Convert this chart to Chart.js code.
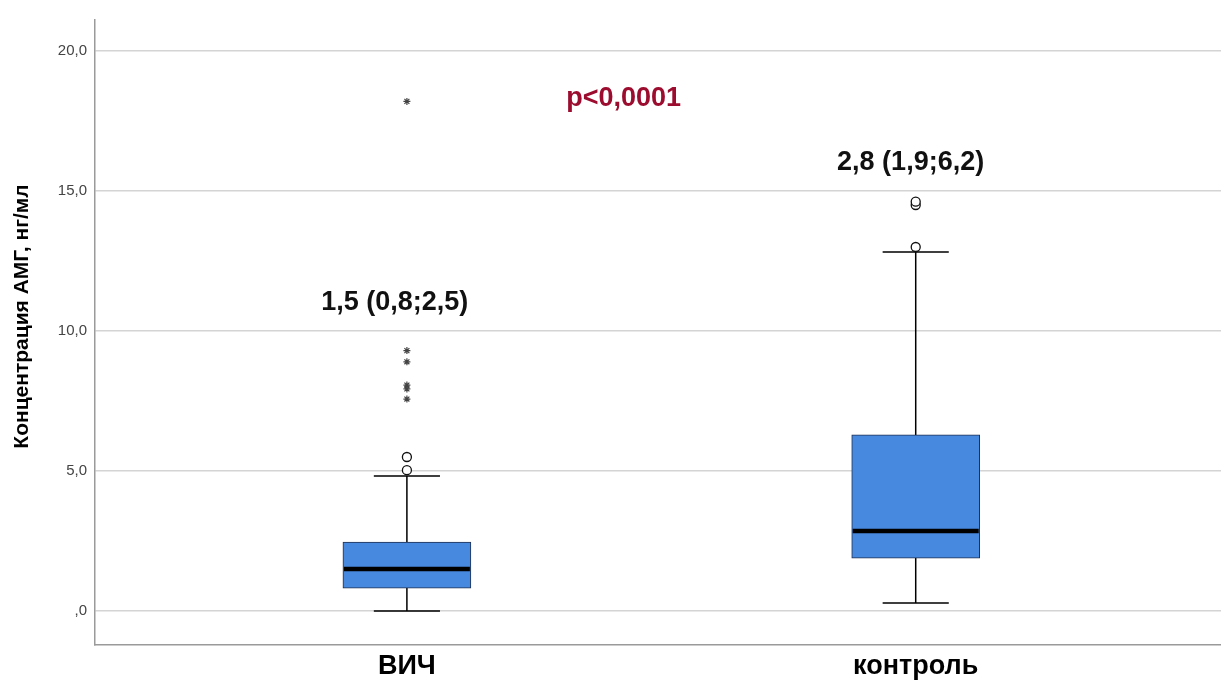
<!DOCTYPE html>
<html>
<head>
<meta charset="utf-8">
<script src="https://cdn.jsdelivr.net/npm/chart.js@4.4.0/dist/chart.umd.min.js"></script>
<style>
  html, body { margin: 0; padding: 0; background: #fff; overflow: hidden; }
  canvas { display: block; }
</style>
</head>
<body>
<canvas id="amhChart" width="1221" height="682"></canvas>
<script>
// AMH concentration, HIV vs control
const groups = ['ВИЧ', 'контроль'];
const groupX = [1, 2];
const q1 = [0.82, 1.89];
const medians = [1.5, 2.86];
const q3 = [2.46, 6.29];
const whiskerLow = [0.0, 0.29];
const whiskerHigh = [4.82, 12.82];
const circleOutliers = [[5.03, 5.5], [13.0, 14.5, 14.62]];
const starOutliers = [[7.57, 7.93, 8.07, 8.9, 9.3, 18.2], []];
const yTicks = [0, 5, 10, 15, 20];
const yTitle = 'Концентрация АМГ, нг/мл';
const summaryLabels = ['1,5 (0,8;2,5)', '2,8 (1,9;6,2)'];
const pValueLabel = 'p<0,0001';

const FONT = 'Arial, "Liberation Sans", sans-serif';

const toPoints = (lists) =>
  lists.flatMap((vals, i) => vals.map(v => ({ x: groupX[i], y: v })));

// whiskers, medians and text labels
const boxExtras = {
  id: 'boxExtras',
  beforeDatasetsDraw(chart) {
    const { ctx, scales: { x, y } } = chart;
    ctx.save();
    ctx.strokeStyle = '#000';
    ctx.lineWidth = 1.5;
    groupX.forEach((gx, i) => {
      const px = x.getPixelForValue(gx);
      const capHalf = x.getPixelForValue(gx + 0.065) - px;
      ctx.beginPath();
      ctx.moveTo(px, y.getPixelForValue(whiskerLow[i]));
      ctx.lineTo(px, y.getPixelForValue(whiskerHigh[i]));
      [whiskerLow[i], whiskerHigh[i]].forEach(v => {
        const py = y.getPixelForValue(v);
        ctx.moveTo(px - capHalf, py);
        ctx.lineTo(px + capHalf, py);
      });
      ctx.stroke();
    });
    ctx.restore();
  },
  afterDatasetsDraw(chart) {
    const { ctx, chartArea, scales: { x, y } } = chart;
    const bars = chart.getDatasetMeta(0).data;
    ctx.save();
    ctx.strokeStyle = '#000';
    ctx.lineWidth = 4.5;
    bars.forEach((bar, i) => {
      const py = y.getPixelForValue(medians[i]);
      ctx.beginPath();
      ctx.moveTo(bar.x - bar.width / 2 + 1, py);
      ctx.lineTo(bar.x + bar.width / 2 - 1, py);
      ctx.stroke();
    });

    ctx.textAlign = 'center';
    ctx.textBaseline = 'middle';
    ctx.font = 'bold 27px ' + FONT;
    ctx.fillStyle = '#111';
    ctx.fillText(summaryLabels[0], x.getPixelForValue(groupX[0] - 0.024), y.getPixelForValue(11.0));
    ctx.fillText(summaryLabels[1], x.getPixelForValue(groupX[1] - 0.01), y.getPixelForValue(16.0));
    ctx.fillStyle = '#9b0c2e';
    ctx.fillText(pValueLabel, x.getPixelForValue(1.426), y.getPixelForValue(18.3));

    // y axis title, sits a bit above the plot's middle like the original
    ctx.translate(22, (chartArea.top + chartArea.bottom) / 2 - 16);
    ctx.rotate(-Math.PI / 2);
    ctx.font = 'bold 21px ' + FONT;
    ctx.fillStyle = '#000';
    ctx.fillText(yTitle, 0, 0);
    ctx.restore();
  }
};

new Chart(document.getElementById('amhChart'), {
  type: 'bar',
  data: {
    datasets: [
      {
        label: 'box',
        data: groupX.map((gx, i) => ({ x: gx, y: [q1[i], q3[i]] })),
        backgroundColor: '#4789df',
        borderColor: '#1f2f4f',
        borderWidth: 1,
        borderSkipped: false,
        barThickness: 128
      },
      {
        type: 'scatter',
        label: 'outliers',
        data: toPoints(circleOutliers),
        pointStyle: 'circle',
        radius: 4.5,
        backgroundColor: '#fff',
        borderColor: '#111',
        borderWidth: 1.3
      },
      {
        type: 'scatter',
        label: 'extremes',
        data: toPoints(starOutliers),
        pointStyle: 'star',
        radius: 3.5,
        borderColor: '#444',
        borderWidth: 1.2
      }
    ]
  },
  options: {
    responsive: false,
    animation: false,
    layout: { autoPadding: false, padding: { top: 20, left: 0, right: 0, bottom: 0 } },
    plugins: {
      legend: { display: false },
      tooltip: { enabled: false }
    },
    scales: {
      x: {
        type: 'linear',
        min: 0.387,
        max: 2.6,
        offset: false,
        grid: { display: false, offset: false, drawTicks: false },
        border: { display: true, color: '#9a9a9a', width: 1.5 },
        afterBuildTicks: (axis) => { axis.ticks = groupX.map(v => ({ value: v })); },
        afterFit: (axis) => { axis.height = 37; },
        ticks: {
          padding: 5,
          color: '#000',
          font: { family: FONT, size: 27, weight: 'bold' },
          callback: (v) => groups[groupX.indexOf(v)]
        }
      },
      y: {
        min: -1.214,
        max: 21.107,
        grid: { color: '#d4d4d4', lineWidth: 1.5, drawTicks: false },
        border: { display: true, color: '#9a9a9a', width: 1.5 },
        afterBuildTicks: (axis) => { axis.ticks = yTicks.map(v => ({ value: v })); },
        afterFit: (axis) => { axis.width = 95; },
        ticks: {
          padding: 8,
          color: '#444',
          font: { family: FONT, size: 15 },
          callback: (v) => v === 0 ? ',0' : v.toFixed(1).replace('.', ',')
        }
      }
    }
  },
  plugins: [boxExtras]
});
</script>
</body>
</html>
